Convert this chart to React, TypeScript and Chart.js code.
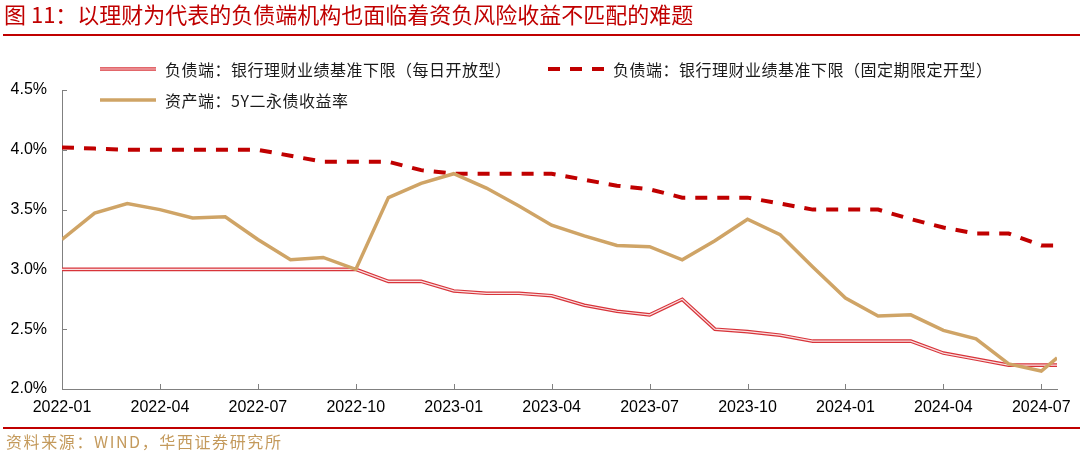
import React, { useEffect, useRef } from "react";
import { Chart, registerables } from "chart.js";

Chart.register(...registerables);

// ---------- data ----------
const titleText = "图 11：以理财为代表的负债端机构也面临着资负风险收益不匹配的难题";
const sourceText = "资料来源：WIND，华西证券研究所";

const seriesNames = [
  "负债端：银行理财业绩基准下限（每日开放型）",
  "负债端：银行理财业绩基准下限（固定期限定开型）",
  "资产端：5Y二永债收益率",
];

const dates = [
  "2022-01-01", "2022-02-01", "2022-03-01", "2022-04-01", "2022-05-01", "2022-06-01",
  "2022-07-01", "2022-08-01", "2022-09-01", "2022-10-01", "2022-11-01", "2022-12-01",
  "2023-01-01", "2023-02-01", "2023-03-01", "2023-04-01", "2023-05-01", "2023-06-01",
  "2023-07-01", "2023-08-01", "2023-09-01", "2023-10-01", "2023-11-01", "2023-12-01",
  "2024-01-01", "2024-02-01", "2024-03-01", "2024-04-01", "2024-05-01", "2024-06-01",
  "2024-07-01", "2024-07-16",
];

const dailyOpen = [
  3.0, 3.0, 3.0, 3.0, 3.0, 3.0, 3.0, 3.0, 3.0, 3.0, 2.9, 2.9,
  2.82, 2.8, 2.8, 2.78, 2.7, 2.65, 2.62, 2.75, 2.5, 2.48, 2.45, 2.4,
  2.4, 2.4, 2.4, 2.3, 2.25, 2.2, 2.2, 2.2,
];

const fixedTerm = [
  4.02, 4.01, 4.0, 4.0, 4.0, 4.0, 4.0, 3.95, 3.9, 3.9, 3.9, 3.83,
  3.8, 3.8, 3.8, 3.8, 3.75, 3.7, 3.67, 3.6, 3.6, 3.6, 3.55, 3.5,
  3.5, 3.5, 3.42, 3.35, 3.3, 3.3, 3.2, 3.2,
];

const perpYield = [
  3.25, 3.47, 3.55, 3.5, 3.43, 3.44, 3.25, 3.08, 3.1, 3.0, 3.6, 3.72,
  3.8, 3.68, 3.53, 3.37, 3.28, 3.2, 3.19, 3.08, 3.24, 3.42, 3.29, 3.02,
  2.76, 2.61, 2.62, 2.49, 2.42, 2.21, 2.15, 2.26,
];

const xTickLabels = [
  "2022-01", "2022-04", "2022-07", "2022-10", "2023-01", "2023-04",
  "2023-07", "2023-10", "2024-01", "2024-04", "2024-07",
];

const yTickValues = [2.0, 2.5, 3.0, 3.5, 4.0, 4.5];

// ---------- helpers ----------
function monthIndex(s: string): number {
  const [y, m, d] = s.split("-").map(Number);
  const day = d || 1;
  const dim = new Date(y, m, 0).getDate();
  return (y - 2022) * 12 + (m - 1) + (day - 1) / dim;
}

const xs = dates.map(monthIndex);
const toPts = (vals: number[]) => vals.map((v, i) => ({ x: xs[i], y: v }));
const xTickVals = xTickLabels.map((l) => monthIndex(l + "-01"));

const RED = "#C00000";
const RED_LINE = "#D8343A";
const GOLD = "#CFA466";
const AXIS = "#808080";
const TICK_FONT = "'Liberation Sans', Arial, sans-serif";
const CJK_FONT = "'Noto Sans CJK SC', 'Noto Sans', sans-serif";

const innerTicks = {
  id: "innerTicks",
  beforeDatasetsDraw(chart: any) {
    const { ctx, chartArea, scales } = chart;
    const x = scales.x;
    const y = scales.y;
    ctx.save();
    ctx.strokeStyle = AXIS;
    ctx.lineWidth = 1;
    x.ticks.forEach((t: any) => {
      const px = Math.round(x.getPixelForValue(t.value)) + 0.5;
      ctx.beginPath();
      ctx.moveTo(px, chartArea.bottom);
      ctx.lineTo(px, chartArea.bottom - 5);
      ctx.stroke();
    });
    y.ticks.forEach((t: any) => {
      const py = Math.round(y.getPixelForValue(t.value)) + 0.5;
      ctx.beginPath();
      ctx.moveTo(chartArea.left, py);
      ctx.lineTo(chartArea.left + 5, py);
      ctx.stroke();
    });
    ctx.restore();
  },
};

function ChartCanvas() {
  const ref = useRef<HTMLCanvasElement | null>(null);
  useEffect(() => {
    if (!ref.current) return;
    const chart = new Chart(ref.current, {
      type: "line",
      data: {
        datasets: [
          {
            label: seriesNames[2],
            data: toPts(perpYield),
            borderColor: GOLD,
            borderWidth: 3.5,
            order: 0,
          },
          {
            label: seriesNames[0] + "-inner",
            data: toPts(dailyOpen),
            borderColor: "rgba(255,255,255,0.85)",
            borderWidth: 1.2,
            order: 1,
          },
          {
            label: seriesNames[0],
            data: toPts(dailyOpen),
            borderColor: RED_LINE,
            borderWidth: 3.6,
            order: 2,
          },
          {
            label: seriesNames[1],
            data: toPts(fixedTerm),
            borderColor: RED,
            borderWidth: 4,
            borderDash: [12, 10],
            order: 3,
          },
        ],
      } as any,
      options: {
        animation: false,
        responsive: false,
        maintainAspectRatio: false,
        layout: { padding: { left: 0, top: 90, right: 21, bottom: 0 } },
        plugins: { legend: { display: false }, tooltip: { enabled: false } },
        elements: { point: { radius: 0 }, line: { tension: 0 } },
        scales: {
          x: {
            type: "linear",
            min: xs[0],
            max: xs[xs.length - 1],
            afterBuildTicks: (s: any) => {
              s.ticks = xTickVals.map((v) => ({ value: v }));
            },
            afterFit: (s: any) => {
              s.height = 64;
            },
            grid: { display: false, drawTicks: false },
            border: { display: true, color: AXIS, width: 1 },
            ticks: {
              padding: 9,
              color: "#000",
              font: { family: TICK_FONT, size: 16 },
              maxRotation: 0,
              autoSkip: false,
              callback: (v: any) => {
                const i = xTickVals.findIndex((t) => Math.abs(t - v) < 1e-6);
                return i >= 0 ? xTickLabels[i] : "";
              },
            },
          },
          y: {
            type: "linear",
            min: yTickValues[0],
            max: yTickValues[yTickValues.length - 1],
            afterBuildTicks: (s: any) => {
              s.ticks = yTickValues.map((v) => ({ value: v }));
            },
            afterFit: (s: any) => {
              s.width = 62;
            },
            grid: { display: false, drawTicks: false },
            border: { display: true, color: AXIS, width: 1 },
            ticks: {
              padding: 15,
              color: "#000",
              font: { family: TICK_FONT, size: 16 },
              callback: (v: any) => Number(v).toFixed(1) + "%",
            },
          },
        },
      } as any,
      plugins: [innerTicks],
    });
    return () => chart.destroy();
  }, []);
  return (
    <canvas
      ref={ref}
      width={1080}
      height={453}
      style={{ position: "absolute", left: 0, top: 0, width: 1080, height: 453 }}
    />
  );
}

function LegendSample({ kind }: { kind: "double" | "dash" | "gold" }) {
  return (
    <svg width={58} height={10} style={{ display: "block" }}>
      {kind === "double" && (
        <>
          <line x1={0} y1={5} x2={56} y2={5} stroke={RED_LINE} strokeWidth={3.6} />
          <line x1={0} y1={5} x2={56} y2={5} stroke="rgba(255,255,255,0.85)" strokeWidth={1.2} />
        </>
      )}
      {kind === "dash" && (
        <line x1={0} y1={5} x2={56} y2={5} stroke={RED} strokeWidth={4} strokeDasharray="12 10" />
      )}
      {kind === "gold" && (
        <line x1={0} y1={5} x2={56} y2={5} stroke={GOLD} strokeWidth={3.5} />
      )}
    </svg>
  );
}

function LegendItem({
  left,
  top,
  kind,
  text,
}: {
  left: number;
  top: number;
  kind: "double" | "dash" | "gold";
  text: string;
}) {
  return (
    <div
      style={{
        position: "absolute",
        left,
        top: top - 12,
        height: 24,
        display: "flex",
        alignItems: "center",
        whiteSpace: "nowrap",
      }}
    >
      <LegendSample kind={kind} />
      <span
        style={{
          marginLeft: 7,
          fontFamily: CJK_FONT,
          fontSize: 16,
          color: "#1a1a1a",
          lineHeight: "24px",
          letterSpacing: 0.5,
          fontFeatureSettings: '"chws" 0, "halt" 0',
        } as any}
      >
        {text}
      </span>
    </div>
  );
}

export default function App() {
  return (
    <div
      style={{
        position: "absolute",
        left: 0,
        top: 0,
        width: 1080,
        height: 453,
        background: "#fff",
        overflow: "hidden",
      }}
    >
      <ChartCanvas />
      <div
        style={{
          position: "absolute",
          left: 4,
          top: 0,
          fontFamily: CJK_FONT,
          fontSize: 22,
          lineHeight: "26px",
          color: RED,
          whiteSpace: "nowrap",
        }}
      >
        {titleText}
      </div>
      <div
        style={{ position: "absolute", left: 3, top: 34, width: 1077, height: 2, background: RED }}
      />
      <LegendItem left={100} top={69} kind="double" text={seriesNames[0]} />
      <LegendItem left={548} top={69} kind="dash" text={seriesNames[1]} />
      <LegendItem left={100} top={100} kind="gold" text={seriesNames[2]} />
      <div
        style={{ position: "absolute", left: 3, top: 427, width: 1077, height: 2, background: RED }}
      />
      <div
        style={{
          position: "absolute",
          left: 6,
          top: 430,
          fontFamily: CJK_FONT,
          fontSize: 16,
          lineHeight: "22px",
          letterSpacing: 1.6,
          color: "#C49A5C",
          whiteSpace: "nowrap",
        }}
      >
        {sourceText}
      </div>
    </div>
  );
}
